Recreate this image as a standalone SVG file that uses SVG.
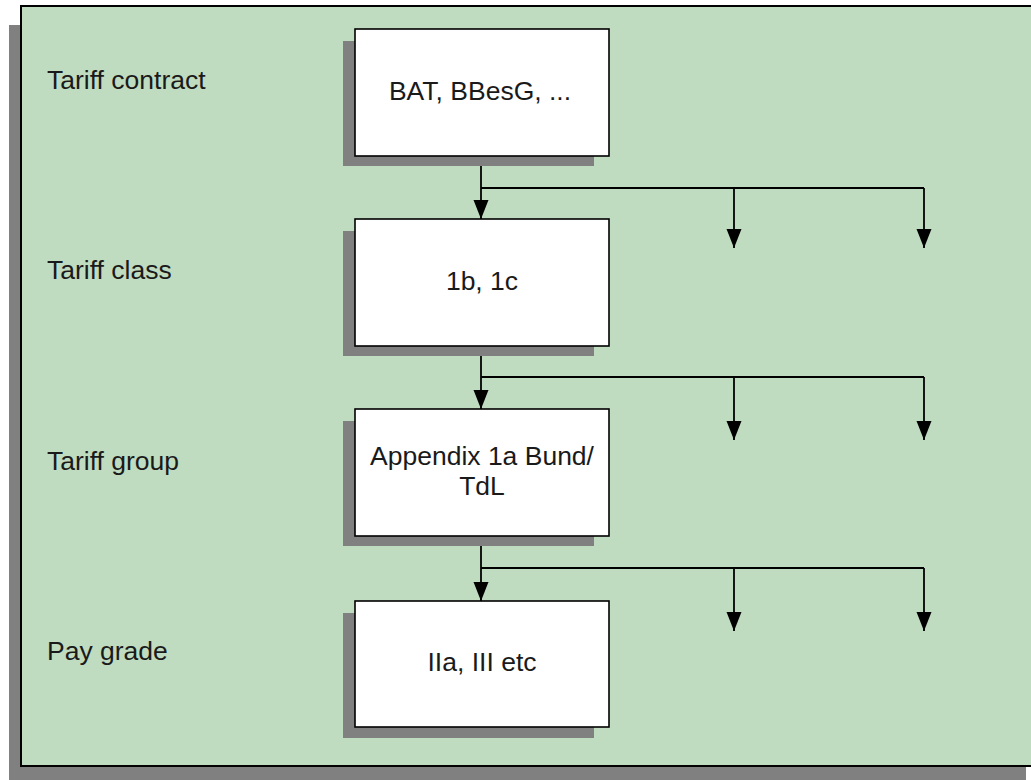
<svg xmlns="http://www.w3.org/2000/svg" width="1031" height="780" viewBox="0 0 1031 780">
  <style>
    .shadow { fill: #808080; }
    .panel { fill: #C0DCC0; stroke: #000; stroke-width: 2; }
    .box { fill: #fff; stroke: #000; stroke-width: 1.6; }
    .lbl { font-family: "Liberation Sans", Arial, sans-serif; font-size: 26.5px; fill: #1a1a1a; }
    .mid { text-anchor: middle; }
    .conn { fill: none; stroke: #000; stroke-width: 1.8; }
  </style>
  <defs>
    <marker id="arrow" markerUnits="userSpaceOnUse" markerWidth="20" markerHeight="16" refX="19" refY="8" orient="auto">
      <path d="M0,0.5 L19,8 L0,15.5 z" fill="#000"/>
    </marker>
  </defs>

  <!-- background panel with drop shadow -->
  <rect class="shadow" x="9" y="25" width="1017" height="770"/>
  <rect class="panel" x="21" y="6" width="1030" height="760"/>

  <!-- level labels -->
  <g id="labels">
    <text class="lbl" x="47" y="89">Tariff contract</text>
    <text class="lbl" x="47" y="279">Tariff class</text>
    <text class="lbl" x="47" y="470">Tariff group</text>
    <text class="lbl" x="47" y="660">Pay grade</text>
  </g>

  <!-- connectors -->
  <g id="connectors">
    <path class="conn" d="M481,156 V219" marker-end="url(#arrow)"/>
    <path class="conn" d="M481,188 H924"/>
    <path class="conn" d="M734,188 V248" marker-end="url(#arrow)"/>
    <path class="conn" d="M924,188 V248" marker-end="url(#arrow)"/>

    <path class="conn" d="M481,346 V409" marker-end="url(#arrow)"/>
    <path class="conn" d="M481,377 H924"/>
    <path class="conn" d="M734,377 V440" marker-end="url(#arrow)"/>
    <path class="conn" d="M924,377 V440" marker-end="url(#arrow)"/>

    <path class="conn" d="M481,536 V601" marker-end="url(#arrow)"/>
    <path class="conn" d="M481,568 H924"/>
    <path class="conn" d="M734,568 V631" marker-end="url(#arrow)"/>
    <path class="conn" d="M924,568 V631" marker-end="url(#arrow)"/>
  </g>

  <g id="node-contract">
    <rect class="shadow" x="343" y="41" width="251" height="125"/>
    <rect class="box" x="355" y="29" width="254" height="127"/>
    <text class="lbl mid" x="480" y="100">BAT, BBesG, ...</text>
  </g>

  <g id="node-class">
    <rect class="shadow" x="343" y="231" width="251" height="125"/>
    <rect class="box" x="355" y="219" width="254" height="127"/>
    <text class="lbl mid" x="482" y="290">1b, 1c</text>
  </g>

  <g id="node-group">
    <rect class="shadow" x="343" y="421" width="251" height="125"/>
    <rect class="box" x="355" y="409" width="254" height="127"/>
    <text class="lbl mid" x="482" y="465">Appendix 1a Bund/</text>
    <text class="lbl mid" x="482" y="495">TdL</text>
  </g>

  <g id="node-grade">
    <rect class="shadow" x="343" y="613" width="251" height="125"/>
    <rect class="box" x="355" y="601" width="254" height="126"/>
    <text class="lbl mid" x="482" y="671">IIa, III etc</text>
  </g>
</svg>
